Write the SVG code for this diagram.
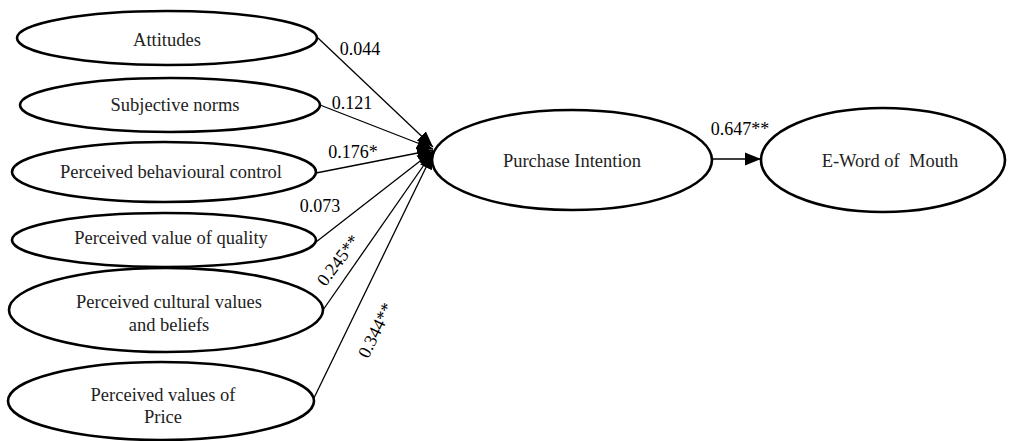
<svg xmlns="http://www.w3.org/2000/svg" width="1019" height="441" viewBox="0 0 1019 441">
<style>
.n{fill:#fff;stroke:#000;stroke-width:2.6}
.t{font-family:"Liberation Serif","Times New Roman",serif;font-size:18.5px;fill:#222;text-anchor:middle}
.l{font-family:"Liberation Serif","Times New Roman",serif;font-size:18px;fill:#000;text-anchor:middle}
.c{stroke:#000;stroke-width:1.3;fill:none;marker-end:url(#ah)}
</style>
<defs>
<marker id="ah" markerUnits="userSpaceOnUse" markerWidth="18" markerHeight="14" refX="16" refY="7" orient="auto">
<path d="M0,0.5 L16,7 L0,13.5 Z" fill="#000"/>
</marker>
</defs>
<rect width="1019" height="441" fill="#fff"/>
<g id="connectors">
<line class="c" x1="318" y1="38" x2="433" y2="147"/>
<line class="c" x1="320" y1="105" x2="433" y2="149"/>
<line class="c" x1="316" y1="173" x2="433" y2="150"/>
<line class="c" x1="316" y1="242" x2="433" y2="151"/>
<line class="c" x1="323" y1="310" x2="433" y2="152"/>
<line class="c" x1="313" y1="400" x2="433" y2="153"/>
<line class="c" x1="712" y1="159" x2="761" y2="159"/>
</g>
<g id="labels">
<text class="l" x="360" y="55">0.044</text>
<text class="l" x="352" y="109">0.121</text>
<text class="l" x="353" y="158">0.176*</text>
<text class="l" x="320" y="212">0.073</text>
<text class="l" transform="translate(343,264) rotate(-53)">0.245**</text>
<text class="l" transform="translate(381,333) rotate(-64)">0.344**</text>
<text class="l" x="740" y="135">0.647**</text>
</g>
<g id="attitudes"><ellipse class="n" cx="167" cy="38" rx="150" ry="27"/><text class="t" x="167" y="46">Attitudes</text></g>
<g id="subjective-norms"><ellipse class="n" cx="170" cy="105" rx="150" ry="27"/><text class="t" x="175" y="111">Subjective norms</text></g>
<g id="pbc"><ellipse class="n" cx="164" cy="172" rx="152" ry="30"/><text class="t" x="171" y="178">Perceived behavioural control</text></g>
<g id="quality"><ellipse class="n" cx="164" cy="240" rx="152" ry="27"/><text class="t" x="171" y="244">Perceived value of quality</text></g>
<g id="cultural"><ellipse class="n" cx="166" cy="310" rx="157" ry="42"/><text class="t" x="169" y="308">Perceived cultural values</text><text class="t" x="169" y="331">and beliefs</text></g>
<g id="price"><ellipse class="n" cx="161" cy="401" rx="153" ry="39"/><text class="t" x="163" y="401">Perceived values of</text><text class="t" x="163" y="423">Price</text></g>
<g id="purchase-intention"><ellipse class="n" cx="572" cy="160" rx="140" ry="50"/><text class="t" x="572" y="167">Purchase Intention</text></g>
<g id="ewom"><ellipse class="n" cx="883" cy="160" rx="122" ry="52"/><text class="t" x="890" y="167">E-Word of&#160; Mouth</text></g>
</svg>
